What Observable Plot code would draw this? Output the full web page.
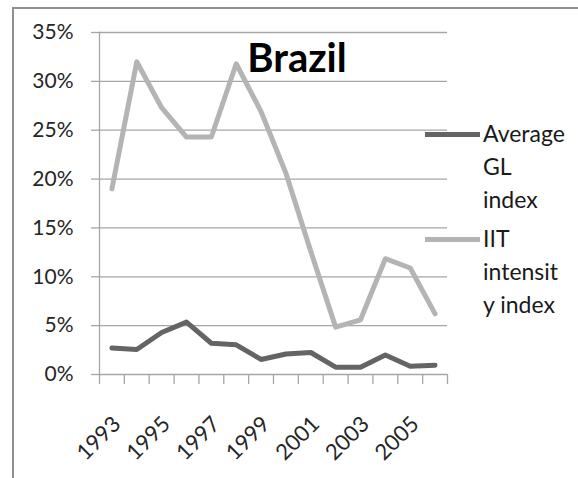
<!DOCTYPE html>
<html>
<head>
<meta charset="utf-8">
<script src="https://cdn.jsdelivr.net/npm/d3@7"></script>
<script src="https://cdn.jsdelivr.net/npm/@observablehq/plot@0.6"></script>
<style>
  html, body { margin: 0; padding: 0; background: #fff; overflow: hidden; }
  #wrap { position: relative; width: 578px; height: 478px; font-family: Lato, "Open Sans", sans-serif; }
  #border { position: absolute; left: 12px; top: 7px; width: 700px; height: 600px;
            border-left: 2px solid #8f8f8f; border-top: 2px solid #8f8f8f; box-sizing: border-box; }
  #title { position: absolute; left: 197px; top: 37px; width: 200px; text-align: center;
           font-size: 40px; line-height: 40px; font-weight: bold; color: #000; }
  .leg { position: absolute; left: 425px; font-size: 23px; line-height: 33px; color: #1a1a1a; }
  .leg .sw { position: absolute; left: 0; width: 55px; height: 5px; }
  .leg .tx { position: absolute; left: 58px; white-space: nowrap; }
  svg { position: absolute; left: 0; top: 0; }
</style>
</head>
<body>
<div id="wrap">
  <div id="border"></div>
  <div id="chart"></div>
  <div id="title"></div>
  <div id="legend"></div>
</div>
<script>
const years = [1993, 1994, 1995, 1996, 1997, 1998, 1999, 2000, 2001, 2002, 2003, 2004, 2005, 2006];
const glIndex = [0.027, 0.0256, 0.043, 0.0536, 0.032, 0.0304, 0.0154, 0.021, 0.0225, 0.0075, 0.0075, 0.020, 0.0085, 0.0095];
const iitIndex = [0.19, 0.32, 0.273, 0.243, 0.243, 0.318, 0.269, 0.206, 0.126, 0.0485, 0.056, 0.1185, 0.109, 0.062];
const yTicks = [0, 0.05, 0.10, 0.15, 0.20, 0.25, 0.30, 0.35];
const xLabels = [1993, 1995, 1997, 1999, 2001, 2003, 2005];
const seriesNames = ["Average GL index", "IIT intensity index"];
const legendLines = [["Average", "GL", "index"], ["IIT", "intensit", "y index"]];
const seriesColors = ["#646464", "#b4b4b4"];
const titleText = "Brazil";

const glData = years.map((yr, i) => ({year: yr, value: glIndex[i], series: seriesNames[0]}));
const iitData = years.map((yr, i) => ({year: yr, value: iitIndex[i], series: seriesNames[1]}));
const boundaries = d3.range(years[0] - 0.5, years[years.length - 1] + 1, 1);

const chart = Plot.plot({
  width: 578,
  height: 478,
  marginLeft: 99,
  marginRight: 131,
  marginTop: 32,
  marginBottom: 104,
  style: {fontFamily: "Lato, 'Open Sans', sans-serif", fontSize: "21px", color: "#262626", background: "transparent"},
  x: {domain: [years[0] - 0.5, years[years.length - 1] + 0.5]},
  y: {domain: [0, 0.35]},
  marks: [
    Plot.gridY(yTicks, {stroke: "#a6a6a6", strokeOpacity: 1, strokeWidth: 1.3}),
    Plot.frame({anchor: "left", stroke: "#a6a6a6", strokeWidth: 1.3}),
    Plot.axisY(yTicks, {tickSize: 8, tickPadding: 18, tickFormat: d3.format(".0%"), stroke: "#a6a6a6", strokeWidth: 1.3, label: null, fill: "#262626"}),
    Plot.axisX(boundaries, {tickSize: 10, tickFormat: () => "", stroke: "#a6a6a6", strokeWidth: 1.3, label: null}),
    Plot.axisX(xLabels, {tickSize: 0, tickPadding: 46, tickRotate: -45, tickFormat: d => String(d), label: null, fill: "#262626", dx: 5, fontSize: 22}),
    Plot.line(glData, {x: "year", y: "value", stroke: seriesColors[0], strokeWidth: 5, strokeLinejoin: "round", strokeLinecap: "round"}),
    Plot.line(iitData, {x: "year", y: "value", stroke: seriesColors[1], strokeWidth: 5, strokeLinejoin: "round", strokeLinecap: "round"})
  ]
});
document.getElementById("chart").appendChild(chart);
document.getElementById("title").textContent = titleText;

const legend = document.getElementById("legend");
const legTops = [126, 231];
legendLines.forEach((lines, i) => {
  const g = document.createElement("div");
  g.className = "leg";
  g.style.top = legTops[i] + "px";
  const sw = document.createElement("div");
  sw.className = "sw";
  sw.style.background = seriesColors[i];
  sw.style.top = (134 - 126 - 2.5) + "px";
  g.appendChild(sw);
  const tx = document.createElement("div");
  tx.className = "tx";
  tx.style.top = "-9px";
  tx.innerHTML = lines.join("<br>");
  g.appendChild(tx);
  legend.appendChild(g);
});
</script>
</body>
</html>
